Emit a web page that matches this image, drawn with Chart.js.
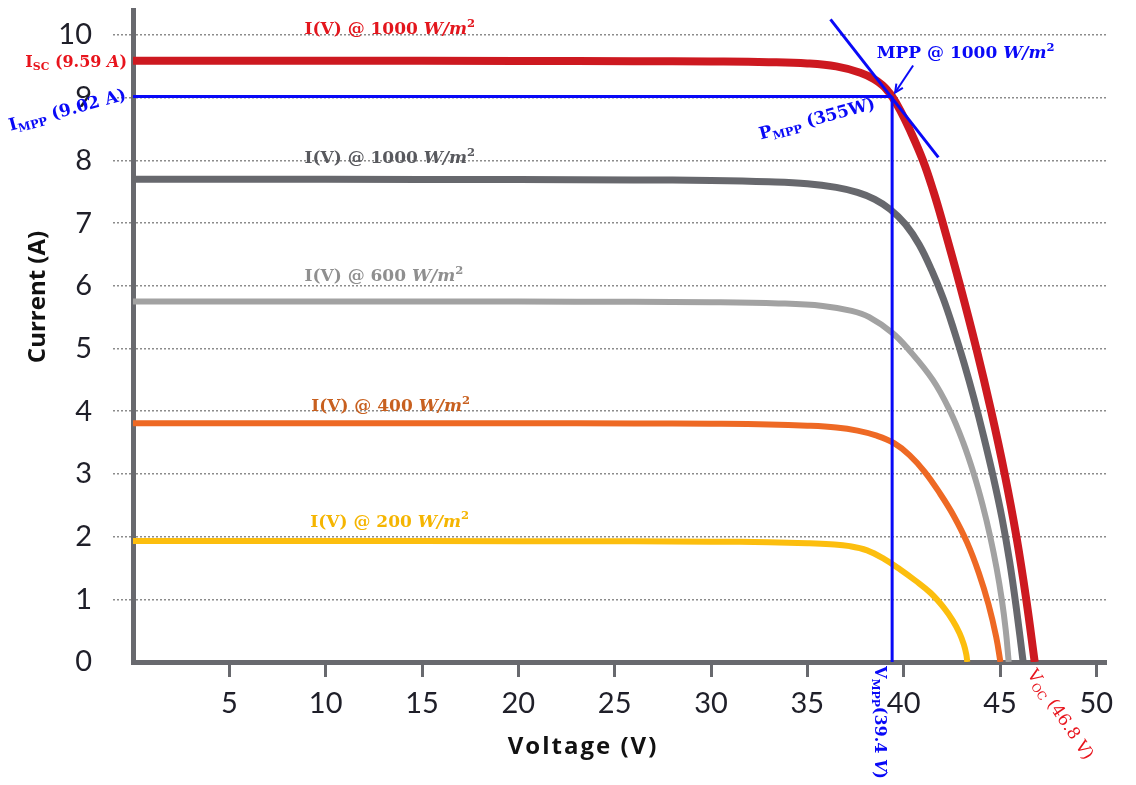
<!DOCTYPE html>
<html>
<head>
<meta charset="utf-8">
<script src="https://cdn.jsdelivr.net/npm/chart.js@4.4.0/dist/chart.umd.min.js"></script>
<style>
  html, body { margin: 0; padding: 0; background: #ffffff; }
  canvas { display: block; }
</style>
</head>
<body>
<canvas id="iv" width="1136" height="785"></canvas>
<script>
// Axis ticks
const xTicks = [5, 10, 15, 20, 25, 30, 35, 40, 45, 50];
const yTicks = [0, 1, 2, 3, 4, 5, 6, 7, 8, 9, 10];

// Module characteristic points at 1000 W/m²
const ISC = 9.59;   // short-circuit current (A)
const IMPP = 9.02;  // current at maximum power point (A)
const VMPP = 39.4;  // voltage at maximum power point (V)
const VOC = 46.8;   // open-circuit voltage (V)
const PMPP = 355;   // maximum power (W)

// I-V curves: voltage (V) and current (A)
const red1000V = [0, 10, 20, 26, 30, 33, 35, 36.5, 37.75, 38.45, 38.9, 39.2, VMPP, 39.82, 40.3, 41.0, 41.55, 42.03, 42.93, 43.77, 44.54, 45.24, 45.85, 46.36, VOC];
const red1000I = [ISC, 9.59, 9.588, 9.584, 9.578, 9.568, 9.548, 9.5, 9.4, 9.3, 9.2, 9.1, IMPP, 8.8, 8.5, 8.0, 7.5, 7.0, 6.0, 5.0, 4.0, 3.0, 2.0, 1.0, 0];

const gray1000V = [0, 10, 20, 26, 30, 33, 35, 36.5, 37.6, 38.5, 39.3, 40.1, 40.8, 41.45, 42.05, 42.6, 43.15, 43.65, 44.15, 44.65, 45.1, 45.5, 45.85, 46.2];
const gray1000I = [7.70, 7.70, 7.695, 7.69, 7.68, 7.66, 7.63, 7.57, 7.49, 7.38, 7.22, 6.98, 6.66, 6.25, 5.8, 5.3, 4.75, 4.2, 3.6, 2.95, 2.3, 1.6, 0.85, 0];

const gray600V = [0, 10, 20, 26, 30, 33.5, 35.8, 37.3, 38.21, 39.41, 40.21, 41.51, 42.41, 43.09, 43.64, 44.1, 44.49, 44.82, 45.09, 45.3, 45.45];
const gray600I = [5.75, 5.75, 5.75, 5.745, 5.74, 5.72, 5.68, 5.6, 5.5, 5.25, 5.0, 4.5, 4.0, 3.5, 3.0, 2.5, 2.0, 1.5, 1.0, 0.5, 0];

const orange400V = [0, 10, 20, 26, 30, 33, 35, 36.5, 37.6, 38.6, 39.5, 40.3, 41.1, 41.9, 42.6, 43.3, 43.9, 44.4, 44.8, 45.02];
const orange400I = [3.81, 3.81, 3.808, 3.805, 3.80, 3.79, 3.77, 3.74, 3.69, 3.61, 3.49, 3.30, 3.03, 2.68, 2.33, 1.90, 1.42, 0.92, 0.40, 0];

const yellow200V = [0, 10, 20, 26, 30, 33, 35, 36.2, 37.2, 38.1, 39.0, 39.8, 40.6, 41.4, 42.1, 42.55, 42.9, 43.12, 43.25, 43.3];
const yellow200I = [1.93, 1.93, 1.928, 1.925, 1.92, 1.91, 1.895, 1.878, 1.848, 1.78, 1.64, 1.48, 1.3, 1.1, 0.86, 0.66, 0.46, 0.28, 0.12, 0];

// MPP guide lines and tangent
const imppLineV = [0, VMPP];
const imppLineI = [IMPP, IMPP];
const vmppLineV = [VMPP, VMPP];
const vmppLineI = [IMPP, 0];
const tangentV = [36.2, 41.8];
const tangentI = [10.25, 8.05];

const AXIS = '#68696e';
const GRID = '#8c8c8c';
const TICK = '#1f1f29';
const BLUE = '#0909f7';
const RED_TXT = '#e8141c';
const SERIF = '"DejaVu Serif", "Liberation Serif", serif';

const pts = (vs, is) => vs.map((v, k) => ({ x: v, y: is[k] }));

function curve(label, vs, is, color, width) {
  return {
    label, data: pts(vs, is), borderColor: color, borderWidth: width,
    showLine: true, pointRadius: 0, tension: 0.4, fill: false
  };
}
function guide(label, vs, is) {
  return {
    label, data: pts(vs, is), borderColor: BLUE, borderWidth: 3,
    showLine: true, pointRadius: 0, tension: 0, fill: false
  };
}

// Mixed-style text: [text, style] where style is '', 'i', 'sub' or 'sup'
function richText(ctx, parts, x, y, o) {
  const size = o.size;
  const weight = o.weight || 'bold';
  const fontFor = st => {
    const s = (st === 'sub' || st === 'sup') ? size * 0.68 : size;
    return (st === 'i' ? 'italic ' : '') + weight + ' ' + s + 'px ' + (o.family || SERIF);
  };
  ctx.save();
  let total = 0;
  for (const [t, st] of parts) { ctx.font = fontFor(st); total += ctx.measureText(t).width; }
  ctx.translate(x, y);
  ctx.rotate((o.angle || 0) * Math.PI / 180);
  let cx = o.align === 'right' ? -total : (o.align === 'center' ? -total / 2 : 0);
  ctx.fillStyle = o.color;
  ctx.textAlign = 'left';
  ctx.textBaseline = 'alphabetic';
  for (const [t, st] of parts) {
    ctx.font = fontFor(st);
    const dy = st === 'sub' ? size * 0.22 : (st === 'sup' ? -size * 0.42 : 0);
    ctx.fillText(t, cx, dy);
    cx += ctx.measureText(t).width;
  }
  ctx.restore();
}

const irradianceLabels = [
  { w: '1000', v: 8.9,  i: 10.02, color: '#e3161d' },
  { w: '1000', v: 8.9,  i: 7.955, color: '#58595e' },
  { w: '600',  v: 8.9,  i: 6.07,  color: '#8f8f8f' },
  { w: '400',  v: 9.25, i: 4.0,   color: '#c8601f' },
  { w: '200',  v: 9.2,  i: 2.16,  color: '#f5b501' }
];

const annotations = {
  id: 'ivAnnotations',
  afterDatasetsDraw(chart) {
    const ctx = chart.ctx;
    const xs = chart.scales.x, ys = chart.scales.y;
    const area = chart.chartArea;
    const px = v => xs.getPixelForValue(v);
    const py = i => ys.getPixelForValue(i);

    // curve labels
    for (const L of irradianceLabels) {
      richText(ctx, [['I(V) @ ' + L.w + ' ', ''], ['W/m', 'i'], ['2', 'sup']],
        px(L.v), py(L.i), { size: 17, color: L.color });
    }

    // Isc and Impp beside the current axis
    richText(ctx, [['I', ''], ['SC', 'sub'], [' (' + ISC.toFixed(2) + ' ', ''], ['A', 'i'], [')', '']],
      area.left - 6, py(ISC) + 6, { size: 16, color: RED_TXT, align: 'right' });
    richText(ctx, [['I', ''], ['MPP', 'sub'], [' (' + IMPP.toFixed(2) + ' A)', '']],
      area.left - 6, py(IMPP) + 3, { size: 17, color: BLUE, align: 'right', angle: -15 });

    // MPP label with arrow
    const mx = px(VMPP), my = py(IMPP);
    richText(ctx, [['MPP @ 1000 ', ''], ['W/m', 'i'], ['2', 'sup']],
      px(38.6), py(9.63), { size: 17, color: BLUE });
    const ex = mx + 3, ey = my - 4, sx = ex + 18, sy = ey - 27;
    ctx.save();
    ctx.strokeStyle = BLUE; ctx.lineWidth = 2;
    ctx.beginPath(); ctx.moveTo(sx, sy); ctx.lineTo(ex, ey); ctx.stroke();
    const ang = Math.atan2(ey - sy, ex - sx);
    ctx.beginPath();
    ctx.moveTo(ex - 9 * Math.cos(ang - 0.45), ey - 9 * Math.sin(ang - 0.45));
    ctx.lineTo(ex, ey);
    ctx.lineTo(ex - 9 * Math.cos(ang + 0.45), ey - 9 * Math.sin(ang + 0.45));
    ctx.stroke();
    ctx.restore();

    // Pmpp
    richText(ctx, [['P', ''], ['MPP', 'sub'], [' (' + PMPP + 'W)', '']],
      mx - 16, my + 12, { size: 17, color: BLUE, align: 'right', angle: -15 });

    // Vmpp and Voc under the voltage axis
    richText(ctx, [['V', ''], ['MPP', 'sub'], ['(' + VMPP.toFixed(1) + ' ', ''], ['V', 'i'], [')', '']],
      mx - 17, area.bottom + 4, { size: 16, color: BLUE, angle: 90, weight: 'bold' });
    richText(ctx, [['V', ''], ['OC', 'sub'], [' (' + VOC.toFixed(1) + ' V)', '']],
      px(VOC) - 8, area.bottom + 12, { size: 17, color: RED_TXT, angle: 56, weight: 'normal' });

    // axis titles
    ctx.save();
    ctx.fillStyle = '#111111';
    ctx.font = 'bold 24px "Open Sans", sans-serif';
    ctx.textAlign = 'center';
    ctx.textBaseline = 'middle';
    ctx.translate(38, 297);
    ctx.rotate(-Math.PI / 2);
    ctx.fillText('Current (A)', 0, 0);
    ctx.restore();
    ctx.save();
    ctx.fillStyle = '#111111';
    ctx.font = 'bold 24px "Open Sans", sans-serif';
    ctx.textAlign = 'center';
    ctx.textBaseline = 'middle';
    if ('letterSpacing' in ctx) ctx.letterSpacing = '2px';
    ctx.fillText('Voltage (V)', 583, 747);
    ctx.restore();
  }
};

const transparentAtZero = color => c => (c.tick && c.tick.value === 0) ? 'rgba(0,0,0,0)' : color;

new Chart(document.getElementById('iv'), {
  type: 'scatter',
  data: {
    datasets: [
      guide('MPP tangent', tangentV, tangentI),
      guide('V MPP', vmppLineV, vmppLineI),
      guide('I MPP', imppLineV, imppLineI),
      curve('I(V) @ 1000 W/m²', red1000V, red1000I, '#cd1920', 8),
      curve('I(V) @ 1000 W/m² (gray)', gray1000V, gray1000I, '#67686d', 7),
      curve('I(V) @ 600 W/m²', gray600V, gray600I, '#a2a2a2', 6),
      curve('I(V) @ 400 W/m²', orange400V, orange400I, '#ee6924', 6),
      curve('I(V) @ 200 W/m²', yellow200V, yellow200I, '#fcbe0e', 6)
    ]
  },
  options: {
    responsive: false,
    animation: false,
    devicePixelRatio: 1,
    layout: { padding: { top: 10, right: 30, left: 0, bottom: 0 } },
    plugins: { legend: { display: false }, tooltip: { enabled: false } },
    scales: {
      x: {
        type: 'linear', min: 0, max: 50.5,
        afterBuildTicks: s => { s.ticks = xTicks.map(v => ({ value: v })); },
        afterFit: s => { s.height = 123; s.paddingLeft = 0; s.paddingRight = 0; },
        grid: { drawOnChartArea: false, drawTicks: true, tickLength: 15, tickWidth: 3, tickColor: AXIS },
        border: { display: true, color: AXIS, width: 5 },
        ticks: { font: { family: 'Lato', size: 29 }, color: TICK, padding: 9, maxRotation: 0, autoSkip: false }
      },
      y: {
        type: 'linear', min: 0, max: 10.4,
        afterBuildTicks: s => { s.ticks = yTicks.map(v => ({ value: v })); },
        afterFit: s => { s.width = 133; s.paddingTop = 0; s.paddingBottom = 0; },
        grid: {
          color: transparentAtZero(GRID), lineWidth: 1.5,
          drawTicks: true, tickLength: 20, tickWidth: 1.5,
          tickColor: transparentAtZero(GRID), tickBorderDash: [2, 2]
        },
        border: { display: true, color: AXIS, width: 5, dash: [2, 2] },
        ticks: { font: { family: 'Lato', size: 29 }, color: TICK, padding: 21, autoSkip: false }
      }
    }
  },
  plugins: [annotations]
});
</script>
</body>
</html>
